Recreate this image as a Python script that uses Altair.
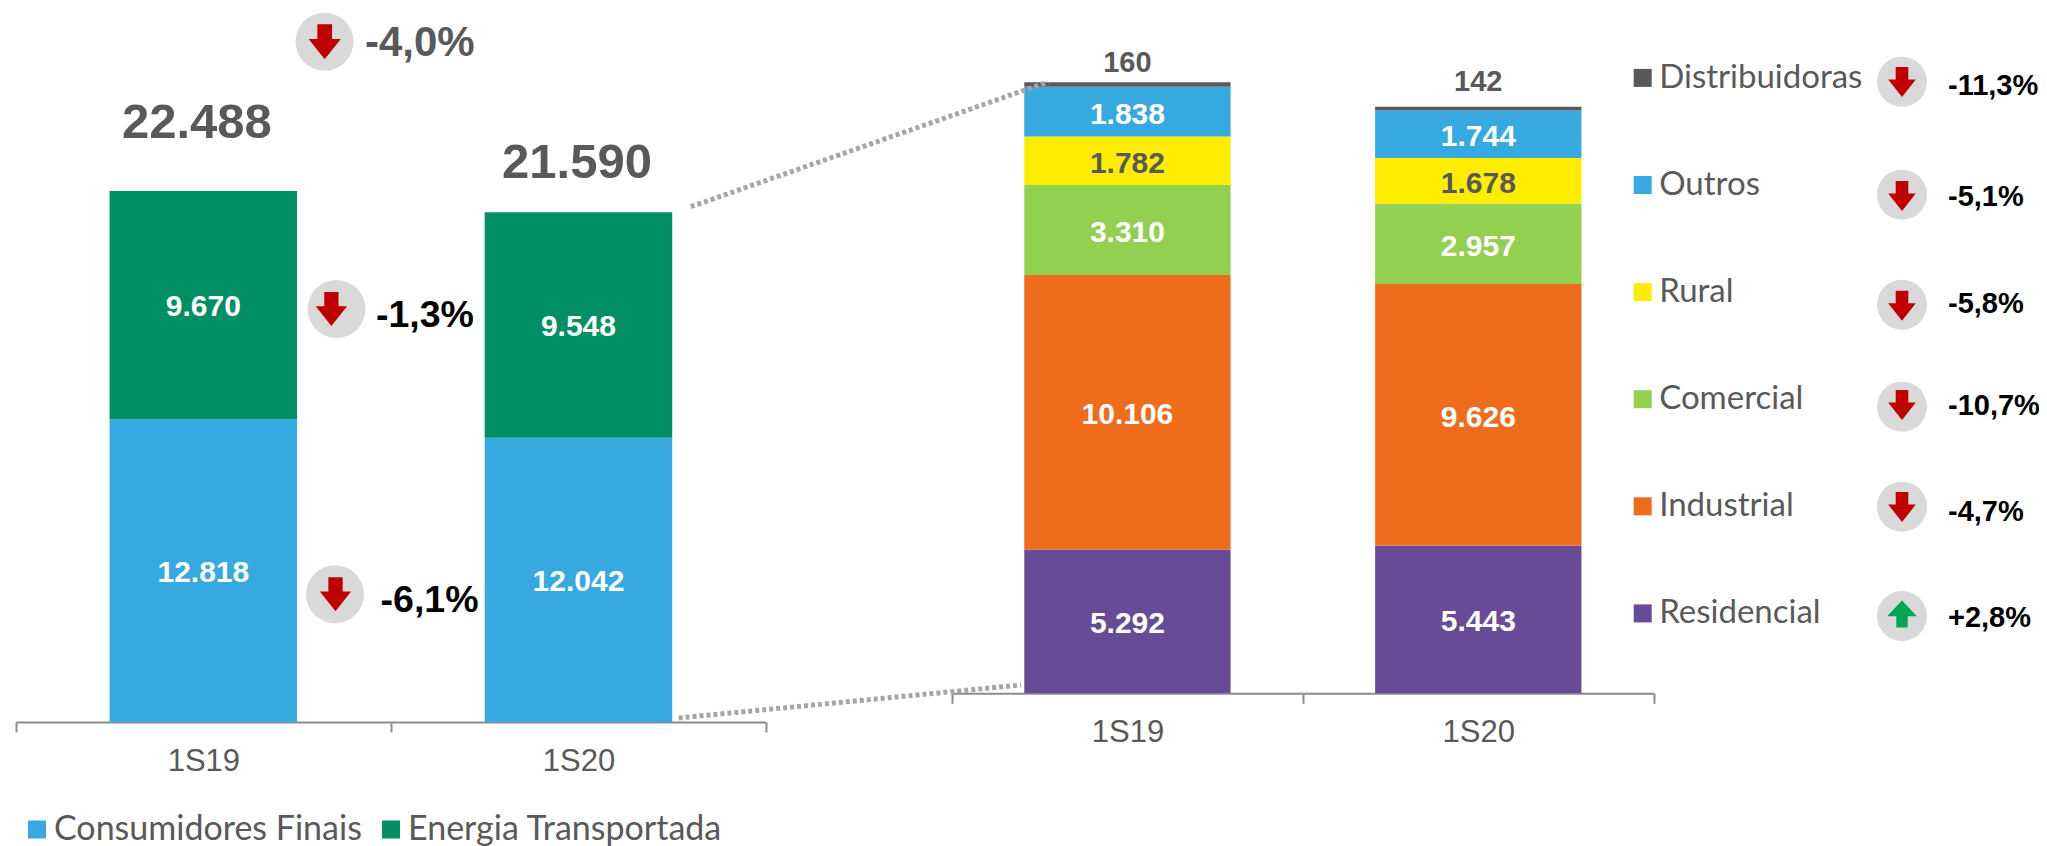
import altair as alt
import pandas as pd

periods = ["1S19", "1S20"]

left_series = ["Consumidores Finais", "Energia Transportada"]
left_values = {
    "Consumidores Finais": [12818, 12042],
    "Energia Transportada": [9670, 9548],
}
left_colors = ["#36A9E1", "#028F63"]
left_totals = [22488, 21590]

right_series = ["Residencial", "Industrial", "Comercial", "Rural", "Outros", "Distribuidoras"]
right_values = {
    "Residencial": [5292, 5443],
    "Industrial": [10106, 9626],
    "Comercial": [3310, 2957],
    "Rural": [1782, 1678],
    "Outros": [1838, 1744],
    "Distribuidoras": [160, 142],
}
right_colors = ["#684A97", "#EF6C1D", "#92D050", "#FFED00", "#36A9E1", "#595959"]
right_totals = [22488, 21590]

left_pcts = ["-4,0%", "-1,3%", "-6,1%"]
right_pcts = ["-11,3%", "-5,1%", "-5,8%", "-10,7%", "-4,7%", "+2,8%"]

W, H = 2031, 838
GREY = "#595959"
AXIS_GREY = "#8C8C8C"
NUM = "Liberation Sans"
LEG = "Lato"
ARROW_DOWN = "M-0.21,-0.5L0.21,-0.5L0.21,-0.08L0.46,-0.08L0,0.5L-0.46,-0.08L-0.21,-0.08Z"
ARROW_UP = "M-0.21,0.5L0.21,0.5L0.21,0.08L0.55,0.08L0,-0.5L-0.55,0.08L-0.21,0.08Z"


def fmt(v):
    return f"{v:,}".replace(",", ".")


def stack_frame(series, values):
    rows = []
    for i, p in enumerate(periods):
        base = 0
        for s in series:
            v = values[s][i]
            rows.append(dict(period=p, series=s, y0=base, y1=base + v,
                             mid=base + v / 2, label=fmt(v)))
            base += v
    return pd.DataFrame(rows)


def panel(series, values, colors, x_range, y_range, pad_in, pad_out, legend):
    df = stack_frame(series, values)
    xs = alt.Scale(domain=periods, range=x_range, paddingInner=pad_in, paddingOuter=pad_out)
    ys = alt.Scale(domain=[0, 25000], range=y_range)
    bars = alt.Chart(df).mark_bar().encode(
        x=alt.X("period:N", scale=xs, axis=None),
        y=alt.Y("y0:Q", scale=ys, axis=None),
        y2="y1:Q",
        color=alt.Color("series:N",
                        scale=alt.Scale(domain=series, range=colors),
                        legend=legend),
    )
    return df, xs, ys, bars


def axis_layer(x_range, offset):
    """An invisible layer that only carries the category axis of a panel."""
    x_axis = alt.Axis(
        title=None, labelAngle=0, orient="bottom", offset=offset, tickBand="extent",
        domainColor=AXIS_GREY, domainWidth=2, tickColor=AXIS_GREY, tickWidth=2, tickSize=10,
        labelFont=NUM, labelFontSize=31, labelColor=GREY, labelPadding=14, grid=False,
    )
    xs = alt.Scale(domain=periods, range=x_range, paddingInner=0, paddingOuter=0)
    return alt.Chart(pd.DataFrame({"period": periods})).mark_tick(opacity=0).encode(
        x=alt.X("period:N", scale=xs, axis=x_axis)
    )


def text_layer(df, xs, ys, field="mid", **mark):
    return alt.Chart(df).mark_text(font=NUM, fontWeight="bold", **mark).encode(
        x=alt.X("period:N", scale=xs, axis=None),
        y=alt.Y(f"{field}:Q", scale=ys, axis=None),
        text="label:N",
    )


# ---------- left panel ----------
LEFT_RANGE = [7.8, 758]
RIGHT_RANGE = [944, 1645.7]
left_legend = alt.Legend(
    orient="none", legendX=12, legendY=804.5, padding=0, title=None, direction="horizontal", columns=2,
    symbolType="square", symbolSize=324, symbolStrokeWidth=0, columnPadding=12,
    labelFont=LEG, labelFontSize=34, labelColor=GREY, labelOffset=0, labelLimit=500,
)
ldf, lxs, lys, lbars = panel(left_series, left_values, left_colors,
                             LEFT_RANGE, [714, 123.75], 0.5, 0.25, left_legend)
l_text = text_layer(ldf, lxs, lys, size=30, color="white", dy=2)
l_total_layers = []
for p, t, dx, dy in zip(periods, left_totals, [-6.5, -1.5], [-68, -49]):
    tdf = pd.DataFrame([dict(period=p, total=t, label=fmt(t))])
    l_total_layers.append(text_layer(tdf, lxs, lys, field="total", size=49, color=GREY, dx=dx, dy=dy))
left_panel = alt.layer(lbars, l_text, *l_total_layers)

# ---------- right panel ----------
right_legend = alt.Legend(
    orient="none", legendX=1618.2, legendY=53.4, padding=0, title=None, direction="vertical",
    symbolType="square", symbolSize=324, symbolStrokeWidth=0, rowPadding=73.1,
    labelFont=LEG, labelFontSize=33, labelColor=GREY, labelOffset=0, labelLimit=500,
    values=right_series[::-1],
)
rdf, rxs, rys, rbars = panel(right_series, right_values, right_colors,
                             RIGHT_RANGE, [685.3, 6.05], 0.412, 0.206, right_legend)
in_bar = rdf[rdf.series != "Distribuidoras"]
r_text = text_layer(in_bar, rxs, rys, size=30, dy=3).encode(
    color=alt.condition(alt.datum.series == "Rural", alt.value(GREY), alt.value("white"))
)
r_top_layers = []
for i, (p, dy) in enumerate(zip(periods, [-19, -25])):
    tdf = pd.DataFrame([dict(period=p, total=right_totals[i],
                             label=fmt(right_values["Distribuidoras"][i]))])
    r_top_layers.append(text_layer(tdf, rxs, rys, field="total", size=29, color=GREY, dy=dy))
right_panel = alt.layer(rbars, r_text, *r_top_layers)

# ---------- annotations ----------
blank = alt.Data(values=[{}])


def badge(cx, cy, d, ax, ay, ah, path, acolor, pct, tx, ty, tsize, tcolor):
    """A grey disc with an arrow and a percentage beside it; positions given in canvas pixels."""
    c = alt.Chart(blank).mark_circle(color="#D9D9D9", opacity=1, size=d * d).encode(
        x=alt.value(cx - 8), y=alt.value(cy - 8))
    a = alt.Chart(blank).mark_point(shape=path, filled=True, color=acolor, opacity=1,
                                    strokeWidth=0, size=4 * ah * ah).encode(
        x=alt.value(ax - 8), y=alt.value(ay - 8))
    t = alt.Chart(blank).mark_text(text=pct, font=NUM, fontWeight="bold", fontSize=tsize,
                                   color=tcolor, align="left", baseline="middle").encode(
        x=alt.value(tx - 8), y=alt.value(ty - 8))
    return [c, a, t]


RED, GREEN = "#C00000", "#00A651"
annots = []
annots += badge(324.5, 41.7, 58, 324.7, 41.8, 35, ARROW_DOWN, RED, left_pcts[0], 365, 43, 42, GREY)
annots += badge(336.5, 309, 58, 331.4, 309, 34, ARROW_DOWN, RED, left_pcts[1], 376, 316, 37.5, "black")
annots += badge(335, 594.3, 58, 335.5, 594.3, 34, ARROW_DOWN, RED, left_pcts[2], 380.6, 601, 37.5, "black")

badge_y = [81.7, 194.7, 304.7, 406.7, 506.7, 616]
arrow_y = [82, 196, 305.7, 405, 507, 614]
text_y = [86, 197, 303.7, 406, 511.7, 618.3]
for i, pct in enumerate(right_pcts):
    up = pct.startswith("+")
    annots += badge(1902, badge_y[i], 50, 1902, arrow_y[i], 27 if up else 30,
                    ARROW_UP if up else ARROW_DOWN, GREEN if up else RED,
                    pct, 1948, text_y[i], 29, "black")

connectors = [
    alt.Chart(blank).mark_rule(color="#A6A6A6", strokeWidth=5, strokeDash=[4, 3]).encode(
        x=alt.value(x1 - 8), y=alt.value(y1 - 8), x2=alt.value(x2 - 8), y2=alt.value(y2 - 8))
    for x1, y1, x2, y2 in [(690.8, 206.7, 1048, 82), (678.6, 718, 1021, 685)]
]

chart = alt.layer(
    axis_layer(LEFT_RANGE, 714 - H), axis_layer(RIGHT_RANGE, 685.3 - H),
    left_panel, right_panel, *connectors, *annots
).resolve_scale(
    x="independent", y="independent", color="independent"
).resolve_axis(x="independent", y="independent").properties(
    width=W, height=H, padding=0, autosize=alt.AutoSizeParams(type="none"),
    background="white",
).configure_view(stroke=None)

chart.save("out.html", embed_options={"renderer": "svg", "actions": False})
